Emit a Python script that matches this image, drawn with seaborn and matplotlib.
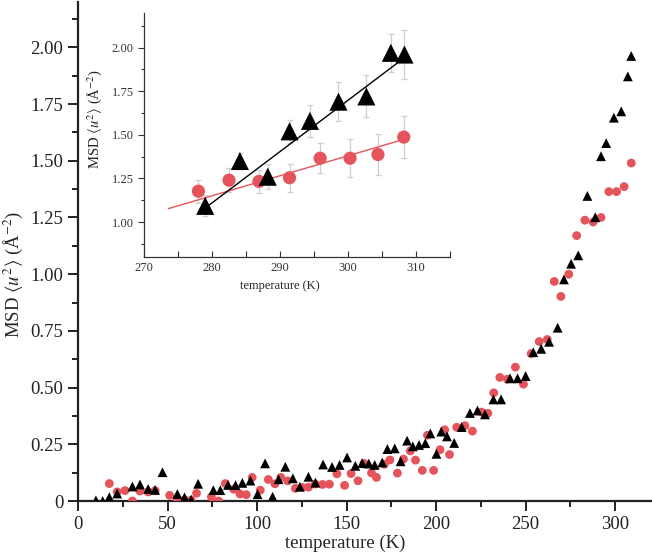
import numpy as np
import matplotlib
matplotlib.use('Agg')
import matplotlib.pyplot as plt
import seaborn as sns
from matplotlib.ticker import MultipleLocator, FuncFormatter

# main panel: MSD vs temperature, two samples
tri_T = [10.0, 13.8, 17.5, 21.9, 30.4, 34.6, 39.2, 43.1, 47.2, 55.5, 59.5, 63.2, 67.1,
         75.6, 79.5, 83.8, 88.0, 91.8, 96.3, 100.3, 104.5, 108.7, 112.0, 115.8, 120.0,
         123.9, 128.7, 132.6, 136.9, 141.9, 146.1, 150.3, 154.9, 158.7, 162.4, 165.7,
         169.9, 172.8, 176.9, 180.2, 183.8, 187.0, 190.5, 194.0, 196.8, 200.2, 202.9,
         206.1, 210.1, 214.3, 218.9, 223.1, 227.3, 232.0, 236.3, 241.3, 245.5, 250.0,
         254.3, 258.7, 263.1, 267.9, 271.4, 275.4, 279.4, 284.5, 288.9, 292.1, 295.0,
         299.3, 303.4, 307.1, 309.0]
tri_msd = [0.003, 0.0, 0.017, 0.033, 0.064, 0.073, 0.053, 0.049, 0.127, 0.031, 0.016, 0.006, 0.076,
           0.048, 0.048, 0.071, 0.070, 0.080, 0.090, 0.030, 0.166, 0.019, 0.096, 0.151, 0.100,
           0.063, 0.107, 0.081, 0.161, 0.150, 0.159, 0.192, 0.155, 0.167, 0.165, 0.159,
           0.170, 0.229, 0.232, 0.175, 0.266, 0.241, 0.247, 0.255, 0.298, 0.208, 0.306,
           0.285, 0.256, 0.326, 0.388, 0.399, 0.382, 0.448, 0.448, 0.541, 0.541, 0.551,
           0.656, 0.671, 0.702, 0.764, 0.977, 1.046, 1.083, 1.345, 1.251, 1.520, 1.578,
           1.690, 1.718, 1.872, 1.962]

circ_T = [17.5, 21.9, 26.3, 30.4, 34.6, 39.2, 43.1, 51.2, 55.5, 59.6, 63.2, 66.2, 74.5,
          78.5, 82.3, 87.0, 90.5, 94.0, 97.3, 101.8, 106.3, 110.0, 113.3, 117.1, 121.4,
          125.2, 128.7, 132.5, 136.6, 140.4, 144.6, 148.9, 152.5, 156.4, 159.8, 163.9,
          166.7, 171.1, 174.2, 178.4, 181.8, 185.6, 188.5, 192.3, 195.2, 198.6, 202.2,
          204.8, 207.5, 211.5, 216.1, 220.3, 225.3, 228.9, 232.2, 235.6, 239.8, 244.3,
          248.8, 253.1, 257.6, 262.1, 266.0, 269.7, 274.1, 278.5, 283.1, 287.7, 292.1,
          296.5, 300.8, 305.0, 309.0]
circ_msd = [0.077, 0.040, 0.046, 0.0, 0.044, 0.040, 0.046, 0.025, 0.009, 0.005, 0.004, 0.034, 0.018,
            0.0, 0.077, 0.052, 0.031, 0.028, 0.104, 0.048, 0.095, 0.076, 0.104, 0.089, 0.056,
            0.060, 0.061, 0.075, 0.073, 0.074, 0.120, 0.069, 0.121, 0.089, 0.166, 0.124,
            0.104, 0.162, 0.181, 0.123, 0.185, 0.221, 0.180, 0.135, 0.290, 0.135, 0.226,
            0.314, 0.205, 0.325, 0.332, 0.308, 0.392, 0.387, 0.477, 0.545, 0.537, 0.590,
            0.515, 0.650, 0.703, 0.712, 0.968, 0.902, 1.000, 1.170, 1.238, 1.230, 1.250,
            1.364, 1.364, 1.386, 1.490]

# inset: high temperature range with error bars
ins_tri_T = [279.0, 284.1, 288.2, 291.4, 294.4, 298.6, 302.7, 306.3, 308.3]
ins_tri_msd = [1.093, 1.350, 1.260, 1.520, 1.580, 1.690, 1.720, 1.970, 1.960]
ins_tri_err = [0.06, 0.045, 0.07, 0.066, 0.09, 0.11, 0.12, 0.11, 0.14]

ins_circ_T = [278.0, 282.5, 286.9, 291.4, 295.9, 300.3, 304.4, 308.2]
ins_circ_msd = [1.177, 1.240, 1.233, 1.254, 1.366, 1.366, 1.387, 1.487]
ins_circ_err = [0.065, 0.07, 0.065, 0.08, 0.085, 0.11, 0.12, 0.12]

# linear fits (slope, intercept, T range)
tri_fit = (0.0294, -7.122, 278.5, 308.3)
circ_fit = (0.01147, -2.061, 273.6, 308.2)

red = '#e5535b'

sns.set_style('ticks')
plt.rcParams['font.family'] = ['Liberation Serif', 'DejaVu Serif']
plt.rcParams['mathtext.fontset'] = 'stix'

fig = plt.figure(figsize=(6.52, 5.53), dpi=100)
ax = fig.add_axes([0.1196, 0.094, 0.8788, 0.9024])

sns.scatterplot(x=circ_T, y=circ_msd, marker='o', color=red, s=40, edgecolor='none', ax=ax, zorder=3)
sns.scatterplot(x=tri_T, y=tri_msd, marker='^', color='black', s=50, edgecolor='none', ax=ax, zorder=4)

ax.set_xlim(0, 320)
ax.set_ylim(0, 2.2)
ax.xaxis.set_major_locator(MultipleLocator(50))
ax.xaxis.set_minor_locator(MultipleLocator(25))
ax.yaxis.set_major_locator(MultipleLocator(0.25))
ax.yaxis.set_minor_locator(MultipleLocator(0.125))
ax.yaxis.set_major_formatter(FuncFormatter(lambda v, p: '0' if abs(v) < 1e-9 else f'{v:.2f}'))
ax.tick_params(which='major', length=7, width=1.4, labelsize=13.5, direction='out', colors='#222222')
ax.tick_params(which='minor', length=4.5, width=1.4, direction='out', colors='#222222')
for s in ['top', 'right']:
    ax.spines[s].set_visible(False)
for s in ['left', 'bottom']:
    ax.spines[s].set_linewidth(1.6)
    ax.spines[s].set_color('#222222')
ax.set_xlabel('temperature (K)', fontsize=13.5)
ax.set_ylabel(r'MSD $\langle u^2\rangle$ (Å$^{-2}$)', fontsize=13.5)
ax.xaxis.set_label_coords(0.466, -0.068)
ax.yaxis.set_label_coords(-0.092, 0.455)

# inset
ins = fig.add_axes([0.2209, 0.5353, 0.4693, 0.4418])
ins.set_facecolor('none')
ins.errorbar(ins_circ_T, ins_circ_msd, yerr=ins_circ_err, fmt='none', ecolor='#cfcfcf',
             elinewidth=0.9, capsize=2.5, capthick=0.9, zorder=1)
ins.errorbar(ins_tri_T, ins_tri_msd, yerr=ins_tri_err, fmt='none', ecolor='#cfcfcf',
             elinewidth=0.9, capsize=2.5, capthick=0.9, zorder=1)

for fit, col in [(circ_fit, red), (tri_fit, 'black')]:
    tt = np.linspace(fit[2], fit[3], 2)
    sns.lineplot(x=tt, y=fit[0] * tt + fit[1], color=col, linewidth=1.0, ax=ins, zorder=2)

sns.scatterplot(x=ins_circ_T, y=ins_circ_msd, marker='o', color=red, s=90, edgecolor='none', ax=ins, zorder=3)
sns.scatterplot(x=ins_tri_T, y=ins_tri_msd, marker='^', color='black', s=170, edgecolor='none', ax=ins, zorder=4)

ins.set_xlim(270, 315)
ins.set_ylim(0.8, 2.2)
ins.xaxis.set_major_locator(MultipleLocator(10))
ins.xaxis.set_minor_locator(MultipleLocator(5))
ins.yaxis.set_major_locator(MultipleLocator(0.25))
ins.yaxis.set_minor_locator(MultipleLocator(0.125))
ins.yaxis.set_major_formatter(FuncFormatter(lambda v, p: f'{v:.2f}'))
ins.tick_params(axis='x', which='both', direction='in', length=4, width=0.8, labelsize=9, colors='#333333')
ins.tick_params(axis='y', which='major', direction='out', length=4, width=0.8, labelsize=9, colors='#333333')
ins.tick_params(axis='y', which='minor', direction='out', length=2.5, width=0.8, colors='#333333')
for s in ['top', 'right']:
    ins.spines[s].set_visible(False)
for s in ['left', 'bottom']:
    ins.spines[s].set_linewidth(0.9)
    ins.spines[s].set_color('#333333')
ins.set_xlabel('temperature (K)', fontsize=9)
ins.set_ylabel(r'MSD $\langle u^2\rangle$ (Å$^{-2}$)', fontsize=10.5)
ins.xaxis.set_label_coords(0.444, -0.095)
ins.yaxis.set_label_coords(-0.13, 0.565)

fig.savefig('out.png', dpi=100)
